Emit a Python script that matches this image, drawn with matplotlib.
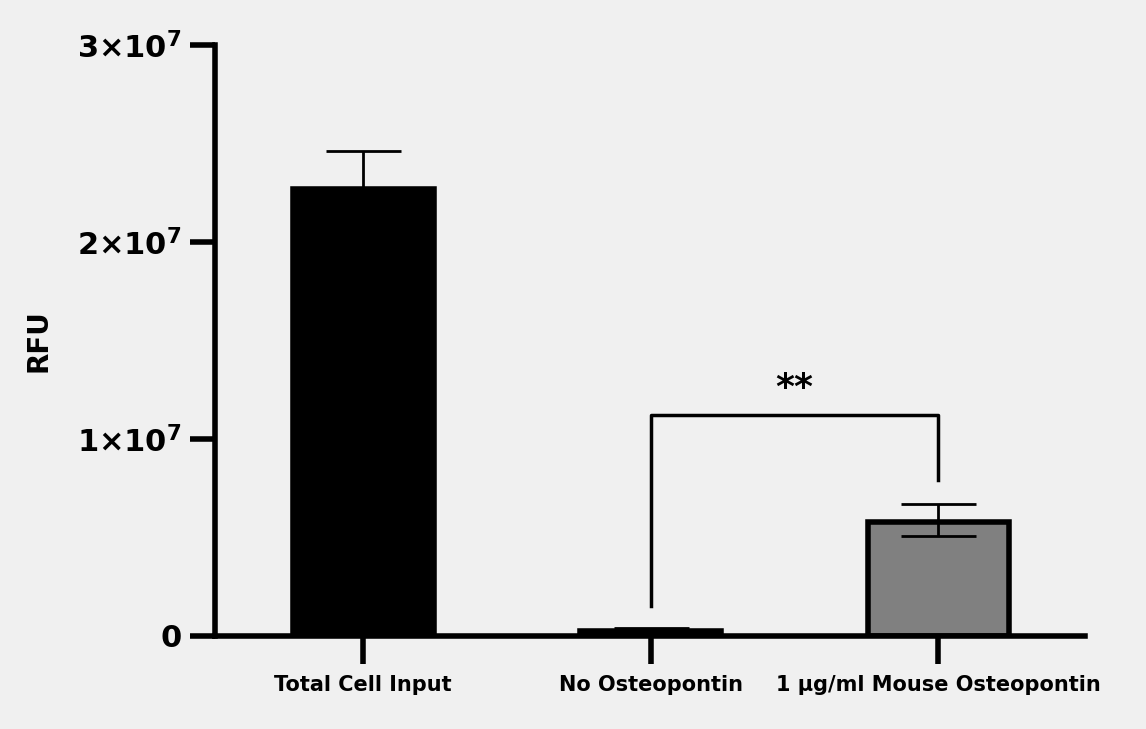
import matplotlib.pyplot as plt
import matplotlib.ticker as mticker

categories = ["Total Cell Input", "No Osteopontin", "1 µg/ml Mouse Osteopontin"]
means = [2.27e7, 0.025e7, 0.58e7]
err_up = [0.19e7, 0.015e7, 0.09e7]
err_down = [0.0, 0.0, 0.07e7]
colors = ["black", "black", "#808080"]
yticks = [0, 1e7, 2e7, 3e7]
ytick_labels = ["0", r"1×10$^{\mathbf{7}}$", r"2×10$^{\mathbf{7}}$", r"3×10$^{\mathbf{7}}$"]

bg = "#f0f0f0"
fig = plt.figure(figsize=(11.46, 7.29), dpi=100, facecolor=bg)
ax = fig.add_axes([0.1876, 0.1276, 0.759, 0.8107], facecolor=bg)

x = list(range(len(categories)))
ax.bar(x, means, width=0.49, color=colors, edgecolor="black", linewidth=4)
for xi, m, lo, hi in zip(x, means, err_down, err_up):
    ax.errorbar([xi], [m], yerr=[[lo], [hi]], fmt="none", ecolor="black",
                elinewidth=2, capsize=27, capthick=2)

# significance bracket
ax.plot([1, 1, 2, 2], [0.15e7, 1.12e7, 1.12e7, 0.79e7], color="black", lw=2.5)
ax.text(1.5, 1.17e7, "**", ha="center", va="bottom", fontsize=26, fontweight="bold")

ax.set_xlim(-0.516, 2.51)
ax.set_ylim(0, 3e7)
ax.set_yticks(yticks)
ax.set_yticklabels(ytick_labels, fontsize=22, fontweight="bold")
ax.set_xticks(x)
ax.set_xticklabels(categories, fontsize=15, fontweight="bold")
ax.set_ylabel("RFU", fontsize=20, fontweight="bold", labelpad=18)

for s in ["top", "right"]:
    ax.spines[s].set_visible(False)
for s in ["left", "bottom"]:
    ax.spines[s].set_linewidth(4)
ax.tick_params(axis="y", length=18, width=4, pad=6)
ax.tick_params(axis="x", length=20, width=4, pad=8)

fig.savefig("out.png", dpi=100, facecolor=bg)
